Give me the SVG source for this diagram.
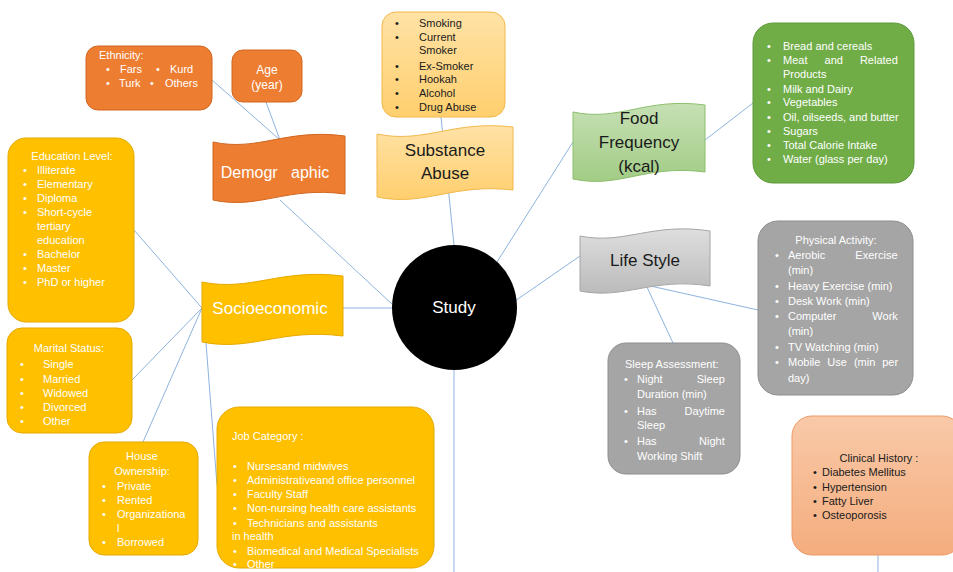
<svg xmlns="http://www.w3.org/2000/svg" width="953" height="572" viewBox="0 0 953 572">
<defs>
<style>
text{font-family:"Liberation Sans",Arial,sans-serif;}
.t{font-size:11px;fill:#ffffff;}
.d{font-size:11px;fill:#1a1a1a;}
.h{font-size:17px;}
.c{text-anchor:middle;}
.conn{stroke:#8DB3DE;stroke-width:1;fill:none;}
.orange{fill:#ED7D31;stroke:#D0661F;stroke-width:1;}
.yellow{fill:#FFC000;stroke:#E5A900;stroke-width:1;}
.green{fill:#70AD47;stroke:#5F9A3A;stroke-width:1;}
.gray{fill:#A5A5A5;stroke:#8E8E8E;stroke-width:1;}
</style>
<linearGradient id="gSub" x1="0" y1="0" x2="0" y2="1"><stop offset="0" stop-color="#FFE2A6"/><stop offset="1" stop-color="#FFCF6E"/></linearGradient>
<linearGradient id="gFood" x1="0" y1="0" x2="0" y2="1"><stop offset="0" stop-color="#C6E0B4"/><stop offset="1" stop-color="#A2CC86"/></linearGradient>
<linearGradient id="gLife" x1="0" y1="0" x2="0" y2="1"><stop offset="0" stop-color="#DEDEDE"/><stop offset="1" stop-color="#BBBBBB"/></linearGradient>
<linearGradient id="gClin" x1="0" y1="0" x2="0" y2="1"><stop offset="0" stop-color="#F9C9A8"/><stop offset="1" stop-color="#F4AD7E"/></linearGradient>
</defs>
<rect width="953" height="572" fill="#ffffff"/>

<g id="connectors">
<line class="conn" x1="212" y1="80" x2="280" y2="140"/>
<line class="conn" x1="266" y1="102" x2="280" y2="140"/>
<line class="conn" x1="280" y1="200" x2="393" y2="305"/>
<line class="conn" x1="343" y1="308" x2="392" y2="308"/>
<line class="conn" x1="134" y1="230" x2="202" y2="308"/>
<line class="conn" x1="132" y1="380" x2="202" y2="308"/>
<line class="conn" x1="143" y1="442" x2="202" y2="308"/>
<line class="conn" x1="205" y1="330" x2="217" y2="485"/>
<line class="conn" x1="441" y1="117" x2="454" y2="245"/>
<line class="conn" x1="497" y1="262" x2="573" y2="142"/>
<line class="conn" x1="705" y1="140" x2="753" y2="103"/>
<line class="conn" x1="515" y1="301" x2="580" y2="256"/>
<line class="conn" x1="646" y1="285" x2="758" y2="310"/>
<line class="conn" x1="646" y1="285" x2="673" y2="343"/>
<line class="conn" x1="454" y1="370" x2="454" y2="572"/>
<line class="conn" x1="878" y1="555" x2="878" y2="572"/>
</g>

<g id="ethnicity">
<rect class="orange" x="86" y="46" width="126" height="64" rx="12"/>
<text class="t" x="99" y="59">Ethnicity:</text>
<text class="t" x="106" y="73">•</text><text class="t" x="120" y="73">Fars</text>
<text class="t" x="156" y="73">•</text><text class="t" x="170" y="73">Kurd</text>
<text class="t" x="106" y="87">•</text><text class="t" x="119" y="87">Turk</text>
<text class="t" x="150" y="87">•</text><text class="t" x="165" y="87">Others</text>
</g>

<g id="age">
<rect class="orange" x="232" y="50" width="70" height="52" rx="11"/>
<text class="t c" x="267" y="74" style="font-size:12px">Age</text>
<text class="t c" x="267" y="89" style="font-size:12px">(year)</text>
</g>

<g id="demographic">
<path class="orange" d="M213,142 C259,152 286,128 345,136 L345,194 C286,186 259,210 213,200 Z"/>
<text class="c" x="275" y="178" xml:space="preserve" style="font-size:16px;fill:#fff;white-space:pre">Demogr   aphic</text>
</g>

<g id="education">
<rect class="yellow" x="8" y="138" width="126" height="184" rx="18"/>
<text class="t c" x="72" y="160">Education Level:</text>
<text class="t" x="23" y="174">•</text><text class="t" x="37" y="174">Illiterate</text>
<text class="t" x="23" y="188">•</text><text class="t" x="37" y="188">Elementary</text>
<text class="t" x="23" y="202">•</text><text class="t" x="37" y="202">Diploma</text>
<text class="t" x="23" y="216">•</text><text class="t" x="37" y="216">Short-cycle</text>
<text class="t" x="37" y="230">tertiary</text>
<text class="t" x="37" y="244">education</text>
<text class="t" x="23" y="258">•</text><text class="t" x="37" y="258">Bachelor</text>
<text class="t" x="23" y="272">•</text><text class="t" x="37" y="272">Master</text>
<text class="t" x="23" y="286">•</text><text class="t" x="37" y="286">PhD or higher</text>
</g>

<g id="marital">
<rect class="yellow" x="7" y="328" width="125" height="105" rx="15"/>
<text class="t c" x="69" y="352">Marital Status:</text>
<text class="t" x="20" y="368">•</text><text class="t" x="43" y="368">Single</text>
<text class="t" x="20" y="383">•</text><text class="t" x="43" y="383">Married</text>
<text class="t" x="20" y="397">•</text><text class="t" x="43" y="397">Widowed</text>
<text class="t" x="20" y="411">•</text><text class="t" x="43" y="411">Divorced</text>
<text class="t" x="20" y="425">•</text><text class="t" x="43" y="425">Other</text>
</g>

<g id="house">
<rect class="yellow" x="89" y="442" width="109" height="113" rx="15"/>
<text class="t c" x="142" y="460">House</text>
<text class="t c" x="142" y="475">Ownership:</text>
<text class="t" x="102" y="490">•</text><text class="t" x="117" y="490">Private</text>
<text class="t" x="102" y="504">•</text><text class="t" x="117" y="504">Rented</text>
<text class="t" x="102" y="518">•</text><text class="t" x="117" y="518">Organizationa</text>
<text class="t" x="117" y="532">l</text>
<text class="t" x="102" y="546">•</text><text class="t" x="117" y="546">Borrowed</text>
</g>

<g id="socioeconomic">
<path class="yellow" d="M202,282 C251,292 280,268 343,276 L343,336 C280,328 251,352 202,342 Z"/>
<text class="h c" x="270" y="314" style="fill:#fff">Socioeconomic</text>
</g>

<g id="job">
<rect class="yellow" x="217" y="407" width="217" height="161" rx="22"/>
<text class="t" x="232" y="440">Job Category :</text>
<text class="t" x="233" y="470">•</text><text class="t" x="247" y="470">Nursesand midwives</text>
<text class="t" x="233" y="484">•</text><text class="t" x="247" y="484">Administrativeand office personnel</text>
<text class="t" x="233" y="498">•</text><text class="t" x="247" y="498">Faculty Staff</text>
<text class="t" x="233" y="512">•</text><text class="t" x="247" y="512">Non-nursing health care assistants</text>
<text class="t" x="233" y="527">•</text><text class="t" x="247" y="527">Technicians and assistants</text>
<text class="t" x="232" y="540">in health</text>
<text class="t" x="233" y="555">•</text><text class="t" x="247" y="555">Biomedical and Medical Specialists</text>
<text class="t" x="233" y="568">•</text><text class="t" x="247" y="568">Other</text>
</g>

<g id="substance-list">
<rect x="382" y="12" width="123" height="105" rx="14" fill="url(#gSub)" stroke="#F2B84B" stroke-width="1"/>
<text class="d" x="395" y="27">•</text><text class="d" x="419" y="27">Smoking</text>
<text class="d" x="395" y="41">•</text><text class="d" x="419" y="41">Current</text>
<text class="d" x="419" y="54">Smoker</text>
<text class="d" x="395" y="70">•</text><text class="d" x="419" y="70">Ex-Smoker</text>
<text class="d" x="395" y="83">•</text><text class="d" x="419" y="83">Hookah</text>
<text class="d" x="395" y="97">•</text><text class="d" x="419" y="97">Alcohol</text>
<text class="d" x="395" y="111">•</text><text class="d" x="419" y="111">Drug Abuse</text>
</g>

<g id="substance-abuse">
<path d="M377,134 C425,144 452,120 513,127 L513,190 C452,183 425,207 377,197 Z" fill="url(#gSub)" stroke="#F2B84B" stroke-width="1"/>
<text class="h c" x="445" y="156" fill="#1a1a1a">Substance</text>
<text class="h c" x="445" y="179" fill="#1a1a1a">Abuse</text>
</g>

<g id="study">
<circle cx="454.5" cy="307.5" r="62.5" fill="#000000"/>
<text class="h c" x="454" y="313" fill="#ffffff">Study</text>
</g>

<g id="food-frequency">
<path d="M573,112 C619,122 646,97 705,105 L705,172 C646,164 619,189 573,179 Z" fill="url(#gFood)" stroke="#8CBF6C" stroke-width="1"/>
<text class="h c" x="639" y="124" fill="#1a1a1a">Food</text>
<text class="h c" x="639" y="148" fill="#1a1a1a">Frequency</text>
<text class="h c" x="639" y="172" fill="#1a1a1a">(kcal)</text>
</g>

<g id="food-list">
<rect class="green" x="753" y="23" width="161" height="160" rx="20"/>
<text class="t" x="767" y="50">•</text><text class="t" x="783" y="50">Bread and cereals</text>
<text class="t" x="767" y="64">•</text><text class="t" x="783" y="64" style="word-spacing:14px">Meat and Related</text>
<text class="t" x="783" y="78">Products</text>
<text class="t" x="767" y="93">•</text><text class="t" x="783" y="93">Milk and Dairy</text>
<text class="t" x="767" y="106">•</text><text class="t" x="783" y="106">Vegetables</text>
<text class="t" x="767" y="121">•</text><text class="t" x="783" y="121">Oil, oilseeds, and butter</text>
<text class="t" x="767" y="135">•</text><text class="t" x="783" y="135">Sugars</text>
<text class="t" x="767" y="149">•</text><text class="t" x="783" y="149">Total Calorie Intake</text>
<text class="t" x="767" y="163">•</text><text class="t" x="783" y="163">Water (glass per day)</text>
</g>

<g id="life-style">
<path d="M580,236 C625,245 652,222 710,231 L710,286 C652,277 625,300 580,291 Z" fill="url(#gLife)" stroke="#A6A6A6" stroke-width="1"/>
<text class="h c" x="645" y="266" fill="#1a1a1a">Life Style</text>
</g>

<g id="physical-activity">
<rect class="gray" x="758" y="221" width="155" height="174" rx="20"/>
<text class="t c" x="836" y="244">Physical Activity:</text>
<text class="t" x="775" y="259">•</text><text class="t" x="788" y="259" style="word-spacing:27px">Aerobic Exercise</text>
<text class="t" x="788" y="274">(min)</text>
<text class="t" x="775" y="290">•</text><text class="t" x="788" y="290">Heavy Exercise (min)</text>
<text class="t" x="775" y="305">•</text><text class="t" x="788" y="305">Desk Work (min)</text>
<text class="t" x="775" y="320">•</text><text class="t" x="788" y="320" style="word-spacing:33px">Computer Work</text>
<text class="t" x="788" y="335">(min)</text>
<text class="t" x="775" y="351">•</text><text class="t" x="788" y="351">TV Watching (min)</text>
<text class="t" x="775" y="366">•</text><text class="t" x="788" y="366" style="word-spacing:3.9px">Mobile Use (min per</text>
<text class="t" x="788" y="382">day)</text>
</g>

<g id="sleep-assessment">
<rect class="gray" x="608" y="343" width="132" height="131" rx="18"/>
<text class="t" x="625" y="368">Sleep Assessment:</text>
<text class="t" x="624" y="383">•</text><text class="t" x="637" y="383" style="word-spacing:31px">Night Sleep</text>
<text class="t" x="637" y="398">Duration (min)</text>
<text class="t" x="624" y="415">•</text><text class="t" x="637" y="415" style="word-spacing:25px">Has Daytime</text>
<text class="t" x="637" y="429">Sleep</text>
<text class="t" x="624" y="445">•</text><text class="t" x="637" y="445" style="word-spacing:39.5px">Has Night</text>
<text class="t" x="637" y="460">Working Shift</text>
</g>

<g id="clinical-history">
<rect x="792" y="416" width="170" height="139" rx="20" fill="url(#gClin)" stroke="#EE9A66" stroke-width="1"/>
<text class="d c" x="879" y="462">Clinical History :</text>
<text class="d" x="813" y="476">•</text><text class="d" x="822" y="476">Diabetes Mellitus</text>
<text class="d" x="813" y="491">•</text><text class="d" x="822" y="491">Hypertension</text>
<text class="d" x="813" y="505">•</text><text class="d" x="822" y="505">Fatty Liver</text>
<text class="d" x="813" y="519">•</text><text class="d" x="822" y="519">Osteoporosis</text>
</g>
</svg>
